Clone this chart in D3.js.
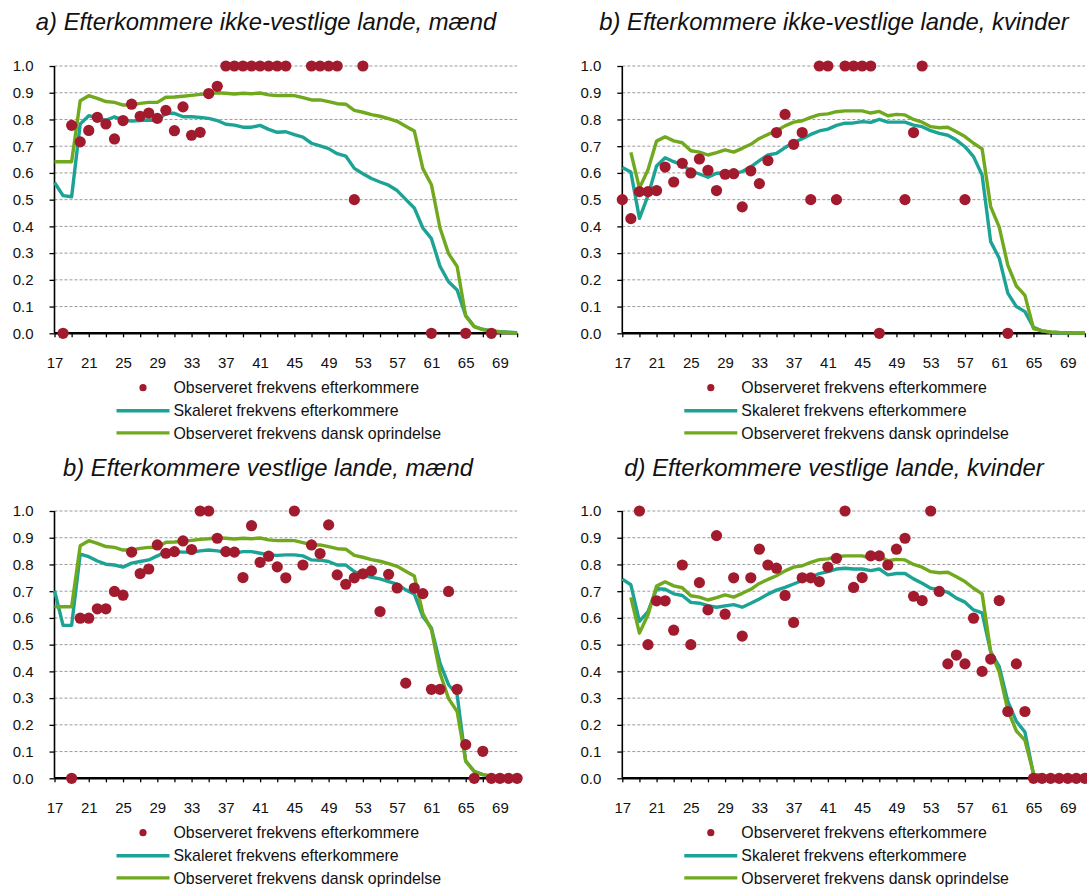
<!DOCTYPE html>
<html>
<head>
<meta charset="utf-8">
<script src="https://cdn.jsdelivr.net/npm/d3@7"></script>
<style>
body { margin: 0; background: #fff; }
text { font-family: "Liberation Sans", Arial, sans-serif; fill: #111; }
</style>
</head>
<body>
<div id="chart"></div>
<script>
// categories (age)
var ages = [17,18,19,20,21,22,23,24,25,26,27,28,29,30,31,32,33,34,35,36,37,38,39,40,41,42,43,44,
  45,46,47,48,49,50,51,52,53,54,55,56,57,58,59,60,61,62,63,64,65,66,67,68,69,70,71];
var yTicks = [0,0.1,0.2,0.3,0.4,0.5,0.6,0.7,0.8,0.9,1.0];

var titles = [
  "a) Efterkommere ikke-vestlige lande, mænd",
  "b) Efterkommere ikke-vestlige lande, kvinder",
  "b) Efterkommere vestlige lande, mænd",
  "d) Efterkommere vestlige lande, kvinder"
];
var legendLabels = [
  "Observeret frekvens efterkommere",
  "Skaleret frekvens efterkommere",
  "Observeret frekvens dansk oprindelse"
];

// observeret frekvens dansk oprindelse (same in both panels of a sex)
var greenMen = [0.642,0.642,0.642,0.870,0.889,0.879,0.867,0.864,0.854,0.854,
  0.860,0.864,0.864,0.883,0.884,0.887,0.890,0.894,0.896,0.900,
  0.898,0.895,0.898,0.896,0.899,0.892,0.889,0.890,0.889,0.882,
  0.873,0.873,0.867,0.859,0.857,0.834,0.827,0.818,0.812,0.803,
  0.793,0.775,0.757,0.616,0.556,0.394,0.298,0.250,0.065,0.025,
  0.014,0.008,0.005,0.003,0.001];
var greenWomen = [null,0.677,0.543,0.612,0.719,0.735,0.720,0.713,0.683,0.678,
  0.667,0.676,0.686,0.678,0.692,0.707,0.729,0.744,0.758,0.776,
  0.790,0.795,0.808,0.818,0.821,0.829,0.832,0.832,0.832,0.824,
  0.830,0.814,0.819,0.817,0.800,0.790,0.773,0.769,0.771,0.754,
  0.736,0.711,0.690,0.474,0.397,0.255,0.177,0.142,0.018,0.009,
  0.005,0.003,0.002,0.001,0.001];

// a) ikke-vestlige, maend
var dotsA = [null,0,0.778,0.716,0.759,0.808,0.783,0.727,0.796,0.857,
  0.812,0.824,0.804,0.834,0.758,0.847,0.741,0.752,0.897,0.924,
  1,1,1,1,1,1,1,1,null,null,
  1,1,1,1,null,0.5,1,null,null,null,
  null,null,null,null,0,null,null,null,0,null,
  null,0,null,null,null];
var tealA = [0.564,0.515,0.511,0.783,0.814,0.807,0.797,0.810,0.798,0.794,
  0.796,0.798,0.797,0.823,0.823,0.810,0.810,0.808,0.804,0.796,
  0.782,0.779,0.771,0.771,0.778,0.763,0.752,0.754,0.743,0.734,
  0.711,0.701,0.691,0.672,0.663,0.617,0.597,0.579,0.566,0.554,
  0.534,0.501,0.469,0.394,0.354,0.251,0.193,0.162,0.066,0.025,
  0.015,0.009,0.006,0.004,0.002];

// b) ikke-vestlige, kvinder
var dotsB = [0.5,0.429,0.530,0.530,0.534,0.622,0.566,0.636,0.600,0.652,
  0.610,0.534,0.595,0.597,0.473,0.608,0.560,0.646,0.751,0.819,
  0.707,0.751,0.5,1,1,0.5,1,1,1,1,
  0,null,null,0.5,0.751,1,null,null,null,null,
  0.5,null,null,null,null,0,null,null,null,null,
  null,null,null,null,null];
var tealB = [0.620,0.603,0.430,0.515,0.626,0.657,0.642,0.630,0.608,0.596,
  0.584,0.599,0.601,0.597,0.605,0.623,0.646,0.667,0.673,0.695,
  0.714,0.728,0.744,0.757,0.764,0.778,0.786,0.787,0.792,0.789,
  0.800,0.790,0.790,0.790,0.779,0.773,0.758,0.748,0.741,0.723,
  0.698,0.661,0.592,0.343,0.281,0.150,0.100,0.081,0.022,0.009,
  0.004,0.002,0.002,0.001,0.001];

// c) vestlige, maend
var dotsC = [null,null,0,0.599,0.599,0.634,0.634,0.699,0.685,0.846,
  0.766,0.783,0.873,0.842,0.848,0.888,0.856,1,1,0.898,
  0.848,0.846,0.751,0.945,0.808,0.831,0.791,0.750,1,0.798,
  0.873,0.841,0.948,0.761,0.726,0.750,0.765,0.776,0.624,0.763,
  0.712,0.356,0.712,0.691,0.333,0.333,0.699,0.333,0.126,0,
  0.101,0,0,0,0];
var tealC = [0.702,0.572,0.572,0.839,0.829,0.813,0.801,0.798,0.790,0.805,
  0.811,0.817,0.832,0.848,0.848,0.846,0.846,0.851,0.854,0.851,
  0.846,0.842,0.848,0.848,0.842,0.836,0.834,0.836,0.836,0.832,
  0.817,0.816,0.811,0.798,0.798,0.773,0.761,0.752,0.746,0.736,
  0.726,0.705,0.690,0.605,0.562,0.431,0.350,0.313,0.064,0.026,
  0.014,0.007,0.004,0.003,0.002];

// d) vestlige, kvinder
var dotsD = [null,null,1,0.5,0.664,0.664,0.554,0.798,0.5,0.732,
  0.630,0.908,0.614,0.750,0.532,0.750,0.857,0.798,0.786,0.684,
  0.583,0.750,0.750,0.736,0.790,0.823,1,0.714,0.751,0.832,
  0.832,0.798,0.857,0.898,0.681,0.665,1,0.699,0.428,0.461,
  0.428,0.599,0.400,0.446,0.665,0.250,0.428,0.250,0,0,
  0,0,0,0,0];
var tealD = [0.745,0.724,0.587,0.624,0.709,0.707,0.690,0.684,0.658,0.655,
  0.646,0.640,0.645,0.650,0.640,0.655,0.671,0.689,0.704,0.714,
  0.727,0.740,0.752,0.766,0.773,0.783,0.786,0.783,0.783,0.777,
  0.783,0.761,0.766,0.766,0.746,0.730,0.711,0.706,0.696,0.674,
  0.659,0.630,0.619,0.474,0.418,0.288,0.213,0.173,0.014,0.004,
  0.003,0.002,0.002,0.001,0.001];

var colDot = "#a11a2d", colTeal = "#1da396", colGreen = "#70a81e";

var svg = d3.select("#chart").append("svg")
  .attr("width", 1087)
  .attr("height", 887);

var plotW = 462.6, plotH = 267.3;

var panels = [
  {title: titles[0], dots: dotsA, teal: tealA, green: greenMen,   left: 54.5,  top: 66,  tx: 266, ty: 30},
  {title: titles[1], dots: dotsB, teal: tealB, green: greenWomen, left: 622.3, top: 66,  tx: 834, ty: 30},
  {title: titles[2], dots: dotsC, teal: tealC, green: greenMen,   left: 54.5,  top: 511, tx: 268, ty: 476},
  {title: titles[3], dots: dotsD, teal: tealD, green: greenWomen, left: 622.3, top: 511, tx: 834, ty: 476}
];

var x = d3.scalePoint().domain(ages).range([0, plotW]);
var y = d3.scaleLinear().domain([0, 1]).range([plotH, 0]);

panels.forEach(function(p) {
  svg.append("text")
    .attr("x", p.tx)
    .attr("y", p.ty)
    .attr("text-anchor", "middle")
    .style("font-style", "italic")
    .style("font-size", "23.8px")
    .text(p.title);

  var g = svg.append("g")
    .attr("transform", "translate(" + p.left + "," + p.top + ")");

  // gridlines
  g.selectAll(".grid")
    .data(yTicks.slice(1))
    .enter().append("line")
    .attr("x1", 0).attr("x2", plotW)
    .attr("y1", function(d) { return y(d); })
    .attr("y2", function(d) { return y(d); })
    .attr("stroke", "#9a9a9a")
    .attr("stroke-width", 1)
    .attr("stroke-dasharray", "3,2");

  // y axis
  var ya = g.append("g")
    .call(d3.axisLeft(y).tickValues(yTicks).tickFormat(d3.format(".1f")).tickSize(5).tickPadding(16));
  ya.select(".domain").attr("stroke", "#000").attr("stroke-width", 1.6).attr("d", "M0," + plotH + "V0");
  ya.selectAll(".tick line").attr("stroke", "#000").attr("stroke-width", 1.3);
  ya.selectAll("text").style("font-size", "15px").style("fill", "#111");

  // x axis
  var xa = g.append("g")
    .attr("transform", "translate(0," + plotH + ")")
    .call(d3.axisBottom(x)
      .tickValues(ages.filter(function(a) { return (a - 17) % 2 === 0; }))
      .tickFormat(function(a) { return (a - 17) % 4 === 0 ? a : ""; })
      .tickSize(4).tickPadding(20));
  xa.select(".domain").attr("stroke", "#000").attr("stroke-width", 2.4).attr("d", "M0,0H" + plotW);
  xa.selectAll(".tick line").attr("stroke", "#000").attr("stroke-width", 1.3);
  xa.selectAll("text").style("font-size", "15px").style("fill", "#111");

  // lines
  var line = d3.line()
    .defined(function(d) { return d[1] !== null; })
    .x(function(d) { return x(d[0]); })
    .y(function(d) { return y(d[1]); });

  g.append("path")
    .datum(ages.map(function(a, i) { return [a, p.teal[i]]; }))
    .attr("fill", "none")
    .attr("stroke", colTeal)
    .attr("stroke-width", 3.4)
    .attr("stroke-linejoin", "round")
    .attr("d", line);

  g.append("path")
    .datum(ages.map(function(a, i) { return [a, p.green[i]]; }))
    .attr("fill", "none")
    .attr("stroke", colGreen)
    .attr("stroke-width", 3.4)
    .attr("stroke-linejoin", "round")
    .attr("d", line);

  // dots
  g.selectAll(".dot")
    .data(ages.map(function(a, i) { return [a, p.dots[i]]; }).filter(function(d) { return d[1] !== null; }))
    .enter().append("circle")
    .attr("cx", function(d) { return x(d[0]); })
    .attr("cy", function(d) { return y(d[1]); })
    .attr("r", 5.6)
    .attr("fill", colDot);

  // legend
  var lg = g.append("g").attr("transform", "translate(0," + plotH + ")");
  var rows = [54.4, 77.4, 99.6];
  lg.append("circle").attr("cx", 88.5).attr("cy", rows[0]).attr("r", 3.6).attr("fill", colDot);
  lg.append("line").attr("x1", 62).attr("x2", 115).attr("y1", rows[1]).attr("y2", rows[1])
    .attr("stroke", colTeal).attr("stroke-width", 3.4);
  lg.append("line").attr("x1", 62).attr("x2", 115).attr("y1", rows[2]).attr("y2", rows[2])
    .attr("stroke", colGreen).attr("stroke-width", 3.4);
  legendLabels.forEach(function(t, i) {
    lg.append("text")
      .attr("x", 119)
      .attr("y", rows[i])
      .attr("dy", "0.36em")
      .style("font-size", "15.9px")
      .text(t);
  });
});
</script>
</body>
</html>
